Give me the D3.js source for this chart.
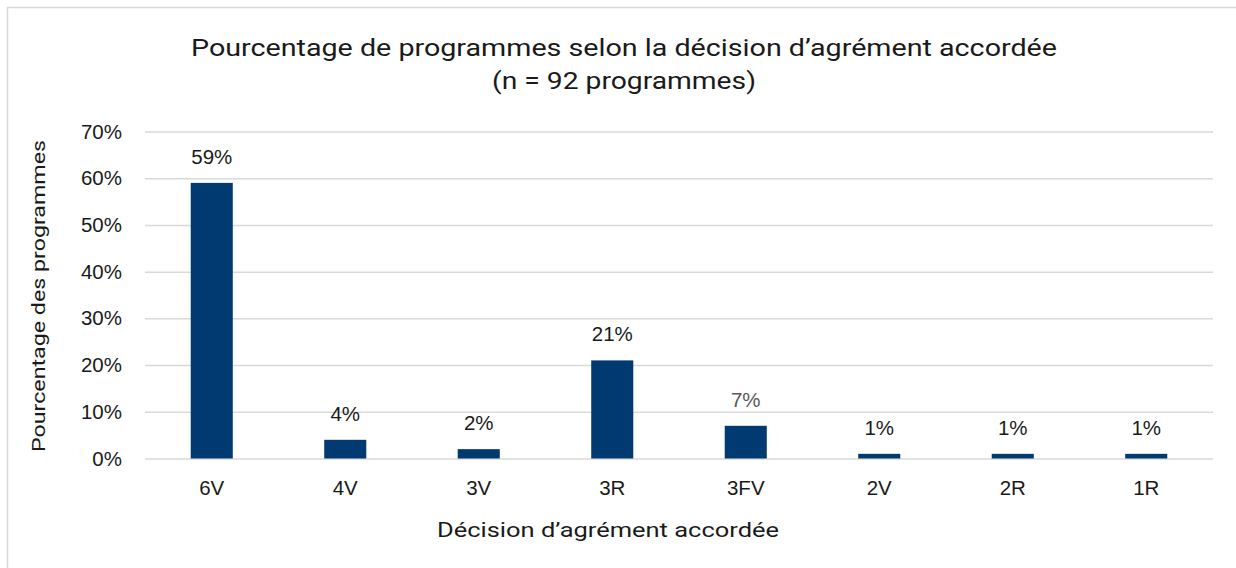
<!DOCTYPE html>
<html>
<head>
<meta charset="utf-8">
<script src="https://cdn.jsdelivr.net/npm/d3@7"></script>
<style>
  html, body { margin: 0; padding: 0; background: #fff; }
  svg { display: block; }
</style>
</head>
<body>
<svg id="chart"></svg>
<script>
// Data
const categories = ['6V', '4V', '3V', '3R', '3FV', '2V', '2R', '1R'];
const values = [59, 4, 2, 21, 7, 1, 1, 1];
const labelColors = ['#1a1a1a', '#1a1a1a', '#1a1a1a', '#1a1a1a', '#595959', '#1a1a1a', '#1a1a1a', '#1a1a1a'];
const yTicks = [0, 10, 20, 30, 40, 50, 60, 70];
const titleLines = ['Pourcentage de programmes selon la décision d\u2019agrément accordée', '(n = 92 programmes)'];
const xTitle = 'Décision d\u2019agrément accordée';
const yTitle = 'Pourcentage des programmes';

const width = 1236, height = 568;
const plot = { left: 145, right: 1213, top: 131.5, bottom: 458.5 };
const barColor = '#003a70';
const gridColor = '#d9d9d9';
const sans = 'Liberation Sans, Arial, sans-serif';
const titleFont = 'Roboto, "Open Sans", sans-serif';

const svg = d3.select('#chart').attr('width', width).attr('height', height);

// chart border (only top and left visible in the frame)
svg.append('rect')
  .attr('x', 7.5).attr('y', 7.5)
  .attr('width', 1300).attr('height', 700)
  .attr('fill', 'none').attr('stroke', gridColor).attr('stroke-width', 1.5);

const x = d3.scaleBand()
  .domain(categories)
  .range([plot.left, plot.right])
  .paddingInner(0.685)
  .paddingOuter(0.3425);

const y = d3.scaleLinear()
  .domain([0, 70])
  .range([plot.bottom, plot.top]);

// gridlines
svg.append('g')
  .attr('class', 'gridlines')
  .attr('transform', `translate(${plot.left},0)`)
  .call(d3.axisLeft(y).tickValues(yTicks).tickFormat('').tickSize(-(plot.right - plot.left)))
  .call(g => g.select('.domain').remove())
  .call(g => g.selectAll('line').attr('stroke', gridColor).attr('stroke-width', 1.5));

// y axis labels
svg.append('g')
  .attr('class', 'y-axis')
  .attr('transform', `translate(${plot.left},0)`)
  .call(d3.axisLeft(y).tickValues(yTicks).tickFormat(d => `${d}%`).tickSize(0).tickPadding(23))
  .call(g => g.select('.domain').remove())
  .call(g => g.selectAll('text')
    .attr('font-family', sans).attr('font-size', 20.5).attr('fill', '#1a1a1a'));

// bars
svg.append('g')
  .selectAll('rect')
  .data(categories)
  .join('rect')
    .attr('x', d => x(d))
    .attr('y', (d, i) => y(values[i]))
    .attr('width', x.bandwidth())
    .attr('height', (d, i) => y(0) - y(values[i]))
    .attr('fill', barColor);

// value labels
svg.append('g')
  .selectAll('text')
  .data(categories)
  .join('text')
    .attr('x', d => x(d) + x.bandwidth() / 2)
    .attr('y', (d, i) => y(values[i]) - 19)
    .attr('text-anchor', 'middle')
    .attr('font-family', sans).attr('font-size', 20.5)
    .attr('fill', (d, i) => labelColors[i])
    .text((d, i) => `${values[i]}%`);

// x axis labels
svg.append('g')
  .attr('class', 'x-axis')
  .attr('transform', `translate(0,${plot.bottom})`)
  .call(d3.axisBottom(x).tickSize(0).tickPadding(22))
  .call(g => g.select('.domain').remove())
  .call(g => g.selectAll('text')
    .attr('font-family', sans).attr('font-size', 20.5).attr('fill', '#1a1a1a'));

// title
svg.append('text')
  .attr('x', 624).attr('y', 56)
  .attr('text-anchor', 'middle')
  .attr('font-family', titleFont).attr('font-size', 24).attr('fill', '#1a1a1a')
  .attr('textLength', 866).attr('lengthAdjust', 'spacingAndGlyphs')
  .text(titleLines[0]);
svg.append('text')
  .attr('x', 624).attr('y', 89)
  .attr('text-anchor', 'middle')
  .attr('font-family', titleFont).attr('font-size', 24).attr('fill', '#1a1a1a')
  .attr('textLength', 264).attr('lengthAdjust', 'spacingAndGlyphs')
  .text(titleLines[1]);

// axis titles
svg.append('text')
  .attr('transform', 'translate(45,296) rotate(-90)')
  .attr('text-anchor', 'middle')
  .attr('font-family', titleFont).attr('font-size', 19).attr('fill', '#1a1a1a')
  .attr('textLength', 312).attr('lengthAdjust', 'spacingAndGlyphs')
  .text(yTitle);

svg.append('text')
  .attr('x', 608).attr('y', 537)
  .attr('text-anchor', 'middle')
  .attr('font-family', titleFont).attr('font-size', 20).attr('fill', '#1a1a1a')
  .attr('textLength', 342).attr('lengthAdjust', 'spacingAndGlyphs')
  .text(xTitle);
</script>
</body>
</html>
